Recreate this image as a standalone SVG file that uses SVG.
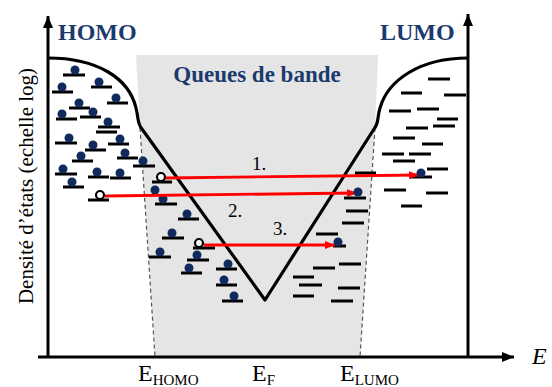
<svg xmlns="http://www.w3.org/2000/svg" width="552" height="387" viewBox="0 0 552 387">
<style>
.t{font-family:"Liberation Serif","Times New Roman",serif}
.b{font-weight:bold;fill:#1b3a6e}
.ax{stroke:#000;stroke-width:3;fill:none}
.dos{stroke:#000;stroke-width:3.2;fill:none;stroke-linejoin:round}
.dsh{stroke:#000;stroke-width:2.8;fill:none}
.e{fill:#102a5e}
.h{fill:#fff;stroke:#000;stroke-width:2.2}
.tr{stroke:#ff0000;stroke-width:2.8;fill:none;marker-end:url(#ra)}
.bd{stroke:#555;stroke-width:1.2;stroke-dasharray:4 3;fill:none}
</style>
<defs>
<marker id="ka" markerUnits="userSpaceOnUse" markerWidth="12" markerHeight="10" refX="12" refY="5" orient="auto"><path d="M0,0L12,5L0,10z" fill="#000"/></marker>
<marker id="ra" markerUnits="userSpaceOnUse" markerWidth="10" markerHeight="8" refX="10" refY="4" orient="auto"><path d="M0,0L10,4L0,8z" fill="#ff0000"/></marker>
</defs>
<g id="tails">
<path d="M136,55L378,55L375,128L360,357L155,357L140,128Z" fill="#e5e5e5"/>
<path class="bd" d="M140,128L155,357M375,128L360,357"/>
</g>
<g id="axes">
<path class="ax" d="M48,357V16" marker-end="url(#ka)"/>
<path class="ax" d="M468,357V14" marker-end="url(#ka)"/>
<path class="ax" d="M38,357H514" marker-end="url(#ka)"/>
</g>
<g id="dos">
<path class="dos" d="M48,58C97,58 129,78 136,108C139,120 137,123 142,129L265,300L374,129C379,123 377,118 380,108C388,80 420,58 468,58"/>
</g>
<g id="homo-states">
<path class="dsh" d="M63,75h22M52,92h21M91,87h21M107,103h21M69,108h21M80,117h21M56,119h21M98,127h22M96,132h21M55,143h22M108,144h21M85,150h21M72,161h21M117,158h21M133,166h22M55,174h22M88,177h21M110,178h21M63,187h21M88,200h21"/>
<circle class="e" cx="75" cy="70" r="4.5"/><circle class="e" cx="62" cy="87" r="4.5"/><circle class="e" cx="99" cy="82" r="4.5"/><circle class="e" cx="116" cy="98" r="4.5"/><circle class="e" cx="79" cy="103" r="4.5"/><circle class="e" cx="93" cy="112" r="4.5"/><circle class="e" cx="62" cy="114" r="4.5"/><circle class="e" cx="108" cy="122" r="4.5"/><circle class="e" cx="69" cy="138" r="4.5"/><circle class="e" cx="120" cy="139" r="4.5"/><circle class="e" cx="93" cy="145" r="4.5"/><circle class="e" cx="81" cy="156" r="4.5"/><circle class="e" cx="125" cy="153" r="4.5"/><circle class="e" cx="143" cy="161" r="4.5"/><circle class="e" cx="63" cy="169" r="4.5"/><circle class="e" cx="97" cy="172" r="4.5"/><circle class="e" cx="120" cy="173" r="4.5"/><circle class="e" cx="72" cy="182" r="4.5"/>
</g>
<g id="homo-tail-states">
<path class="dsh" d="M152,182h20M155,204h22M178,219h21M162,238h22M193,248h22M149,257h22M187,260h22M181,273h21M216,269h21M216,285h21M222,301h21"/>
<circle class="e" cx="155" cy="190" r="4.5"/><circle class="e" cx="163" cy="199" r="4.5"/><circle class="e" cx="187" cy="214" r="4.5"/><circle class="e" cx="172" cy="233" r="4.5"/><circle class="e" cx="160" cy="252" r="4.5"/><circle class="e" cx="197" cy="255" r="4.5"/><circle class="e" cx="189" cy="268" r="4.5"/><circle class="e" cx="228" cy="264" r="4.5"/><circle class="e" cx="224" cy="280" r="4.5"/><circle class="e" cx="234" cy="296" r="4.5"/>
</g>
<g id="lumo-tail-states">
<path class="dsh" d="M355,173h21M344,198h22M346,211h22M342,223h22M316,234h22M333,246h13M339,264h22M313,268h22M293,277h21M299,285h23M338,288h22M293,296h21M331,301h22"/>
</g>
<g id="lumo-states">
<path class="dsh" d="M428,79h22M401,93h21M444,95h22M389,111h22M417,109h22M437,119h21M433,126h22M406,128h22M393,138h22M422,144h21M382,154h22M409,154h22M393,161h22M427,169h21M410,177h22M384,190h22M426,193h22M401,206h21"/>
</g>
<g id="transitions">
<path class="tr" d="M166,178L419,175"/>
<path class="tr" d="M105,196L357,193"/>
<path class="tr" d="M204,245L335,245"/>
<circle class="h" cx="161" cy="177" r="4"/>
<circle class="h" cx="100" cy="195" r="4"/>
<circle class="h" cx="199" cy="243" r="4"/>
<circle class="e" cx="421" cy="173" r="4.5"/>
<circle class="e" cx="358" cy="192" r="4.5"/>
<circle class="e" cx="338" cy="242" r="4.5"/>
</g>
<g id="labels" class="t">
<text class="b" x="58" y="40" font-size="24">HOMO</text>
<text class="b" x="380" y="40" font-size="24">LUMO</text>
<text class="b" x="257" y="82" font-size="23" text-anchor="middle">Queues de bande</text>
<text x="252" y="170" font-size="19">1.</text>
<text x="228" y="217" font-size="19">2.</text>
<text x="273" y="235" font-size="19">3.</text>
<text transform="translate(33,186) rotate(-90)" font-size="21" text-anchor="middle">Densité d’états (echelle log)</text>
<text x="532" y="364" font-size="24" font-style="italic">E</text>
<text x="138" y="381" font-size="24">E<tspan font-size="15" dy="4">HOMO</tspan></text>
<text x="252" y="381" font-size="24">E<tspan font-size="15" dy="4">F</tspan></text>
<text x="340" y="381" font-size="24">E<tspan font-size="15" dy="4">LUMO</tspan></text>
</g>
</svg>
